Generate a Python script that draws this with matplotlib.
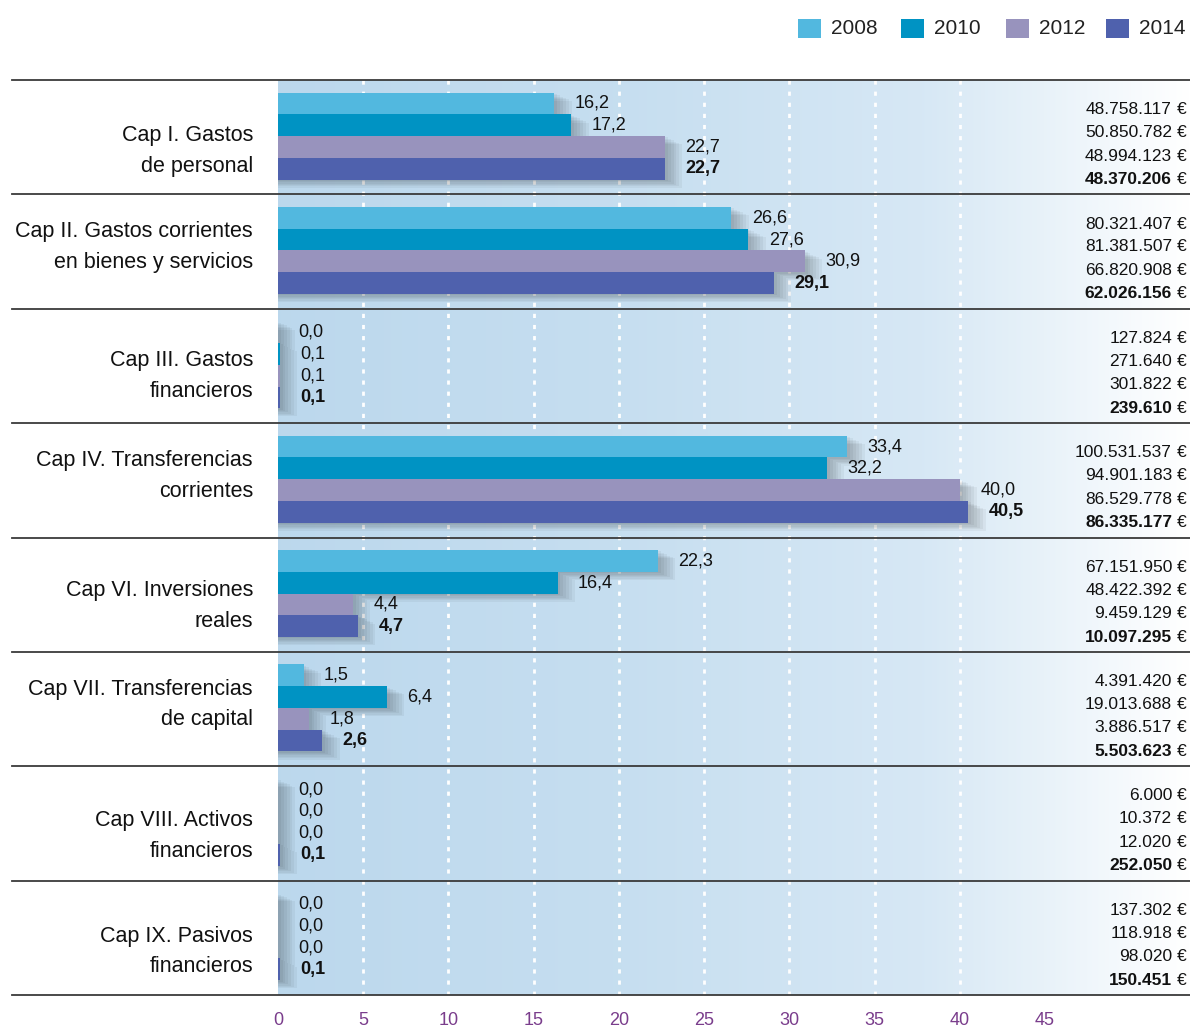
"""Horizontal grouped bars: budget chapters, share (%) per year."""
import numpy as np
import matplotlib.pyplot as plt
from matplotlib.patches import Rectangle

W, H = 1190, 1027
SANS = ["Liberation Sans", "DejaVu Sans"]

chapters = [
    "Cap I. Gastos\nde personal",
    "Cap II. Gastos corrientes\nen bienes y servicios",
    "Cap III. Gastos\nfinancieros",
    "Cap IV. Transferencias\ncorrientes",
    "Cap VI. Inversiones\nreales",
    "Cap VII. Transferencias\nde capital",
    "Cap VIII. Activos\nfinancieros",
    "Cap IX. Pasivos\nfinancieros",
]
years = ["2008", "2010", "2012", "2014"]

pct_2008 = [16.2, 26.6, 0.0, 33.4, 22.3, 1.5, 0.0, 0.0]
pct_2010 = [17.2, 27.6, 0.1, 32.2, 16.4, 6.4, 0.0, 0.0]
pct_2012 = [22.7, 30.9, 0.1, 40.0, 4.4, 1.8, 0.0, 0.0]
pct_2014 = [22.7, 29.1, 0.1, 40.5, 4.7, 2.6, 0.1, 0.1]

eur_2008 = ["48.758.117", "80.321.407", "127.824", "100.531.537",
            "67.151.950", "4.391.420", "6.000", "137.302"]
eur_2010 = ["50.850.782", "81.381.507", "271.640", "94.901.183",
            "48.422.392", "19.013.688", "10.372", "118.918"]
eur_2012 = ["48.994.123", "66.820.908", "301.822", "86.529.778",
            "9.459.129", "3.886.517", "12.020", "98.020"]
eur_2014 = ["48.370.206", "62.026.156", "239.610", "86.335.177",
            "10.097.295", "5.503.623", "252.050", "150.451"]

series = [pct_2008, pct_2010, pct_2012, pct_2014]
amounts = [eur_2008, eur_2010, eur_2012, eur_2014]
colors = ["#52b8df", "#0093c3", "#9893bd", "#4f61ad"]

# layout helpers (pixel geometry of the reference)
X0, X45 = 278, 1045
PPU = (X45 - X0) / 45.0
AX_TOP, AX_BOT = 80, 995
XMAX = (W - X0) / PPU


def px(x):
    return (x - X0) / PPU


fig = plt.figure(figsize=(W / 100, H / 100), dpi=100)
ax = fig.add_axes([X0 / W, 1 - AX_BOT / H, (W - X0) / W, (AX_BOT - AX_TOP) / H])
ax.set_xlim(0, XMAX)
ax.set_ylim(len(chapters), 0)

# background gradient fading to white on the right
xs = np.linspace(0, XMAX, 400)
stops_x = [0, 20, 38, 45, 50, XMAX]
stops = np.array([[0.737, 0.847, 0.929], [0.776, 0.871, 0.941], [0.843, 0.910, 0.961],
                  [0.910, 0.949, 0.976], [0.965, 0.980, 0.992], [1, 1, 1]])
grad = np.stack([np.interp(xs, stops_x, stops[:, c]) for c in range(3)], axis=-1)[None, :, :]
ax.imshow(grad, extent=[0, XMAX, len(chapters), 0], aspect="auto", zorder=0)

ax.vlines(range(5, 45, 5), 0, len(chapters), colors="white", lw=2,
          linestyles=(0, (1.5, 2.5)), zorder=1)

bar_h = 0.19
centers = [0.205, 0.395, 0.585, 0.775]
right_rows = [0.26, 0.46, 0.665, 0.87]
label_off = [0.62, 0.46, 0.59, 0.46, 0.60, 0.46, 0.61, 0.62]
y = np.arange(len(chapters))

# soft drop shadows
for k in range(1, 7):
    for j, vals in enumerate(series):
        v = np.array(vals)
        ax.barh(y + centers[j] + 0.012 * k, v + 0.17 * k, height=bar_h,
                color="black", alpha=0.045, lw=0, zorder=2)

for j, vals in enumerate(series):
    ax.barh(y + centers[j], vals, height=bar_h, color=colors[j], lw=0, zorder=3)
    for i, v in enumerate(vals):
        ax.text(v + 1.2, i + centers[j], f"{v:.1f}".replace(".", ","),
                ha="left", va="center", fontsize=13, family=SANS,
                weight="bold" if j == 3 else "normal", color="#111111", zorder=5)
    for i, s in enumerate(amounts[j]):
        ax.text(px(1172), i + right_rows[j], s, ha="right", va="center", fontsize=12.5,
                family=SANS, weight="bold" if j == 3 else "normal",
                color="#111111", clip_on=False)
        ax.text(px(1187), i + right_rows[j], "€", ha="right", va="center", fontsize=12.5,
                family=SANS, color="#111111", clip_on=False)

for i, name in enumerate(chapters):
    ax.text(px(253), i + label_off[i], name, ha="right", va="center", fontsize=15.5,
            family=SANS, linespacing=1.6, color="#111111", clip_on=False)

for i in range(len(chapters) + 1):
    ax.plot([px(12), XMAX], [i, i], color="#3a3a3a", lw=1.3, clip_on=False, zorder=6)

ax.set_xticks(range(0, 50, 5))
ax.set_yticks([])
ax.tick_params(axis="x", length=0, pad=12, labelsize=13, labelcolor="#7a3d8c")
for lab in ax.get_xticklabels():
    lab.set_family(SANS)
for sp in ax.spines.values():
    sp.set_visible(False)

# legend
leg_sq = [798, 901, 1006, 1106]
for j, yr in enumerate(years):
    fig.add_artist(Rectangle((leg_sq[j] / W, 1 - 38 / H), 23 / W, 19 / H,
                             transform=fig.transFigure, color=colors[j], lw=0))
    fig.text((leg_sq[j] + 33) / W, 1 - 29 / H, yr, ha="left", va="center",
             fontsize=15, family=SANS, color="#222222")

fig.savefig("out.png", dpi=100)
